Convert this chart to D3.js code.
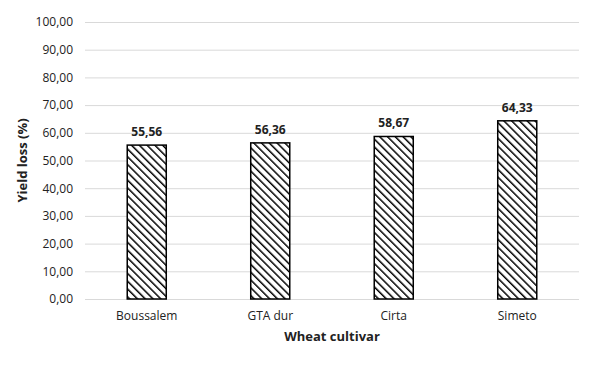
<!DOCTYPE html>
<html>
<head>
<meta charset="utf-8">
<script src="https://cdn.jsdelivr.net/npm/d3@7"></script>
<style>
  body { margin: 0; background: #fff; }
  text { font-family: "Open Sans", "Liberation Sans", sans-serif; fill: #222; }
</style>
</head>
<body>
<svg id="chart" width="613" height="370"></svg>
<script>
// values
const cultivars = ['Boussalem', 'GTA dur', 'Cirta', 'Simeto']
const yieldLoss = [55.56, 56.36, 58.67, 64.33]
const yTicks = [0, 10, 20, 30, 40, 50, 60, 70, 80, 90, 100]

const fmt = v => d3.format('.2f')(v).replace('.', ',')

const svg = d3.select('#chart')
const margin = { top: 22, right: 34, bottom: 71, left: 85 }
const W = 613, H = 370
const w = W - margin.left - margin.right
const h = H - margin.top - margin.bottom

// hatch pattern, lines running top-left to bottom-right
const P = 5.5
const pat = svg.append('defs').append('pattern')
  .attr('id', 'hatch')
  .attr('patternUnits', 'userSpaceOnUse')
  .attr('width', P).attr('height', P)
  .attr('patternTransform', 'rotate(-45)')
pat.append('rect').attr('width', P).attr('height', P).attr('fill', '#fff')
pat.append('line')
  .attr('x1', 0).attr('y1', 0).attr('x2', 0).attr('y2', P)
  .attr('stroke', '#000').attr('stroke-width', 3)

const g = svg.append('g').attr('transform', `translate(${margin.left},${margin.top})`)

const x = d3.scaleBand().domain(cultivars).range([0, w]).paddingInner(0.684).paddingOuter(0.342)
const y = d3.scaleLinear().domain([0, 100]).range([h, 0])

// gridlines + y labels
const yAxis = g.append('g').call(d3.axisLeft(y).tickValues(yTicks).tickSize(-w).tickFormat(fmt).tickPadding(12))
yAxis.select('.domain').remove()
yAxis.selectAll('line').attr('stroke', '#d9d9d9').attr('stroke-width', 1)
yAxis.selectAll('text').attr('font-size', 12).attr('fill', '#222')
  .style('font-family', '"Open Sans", "Liberation Sans", sans-serif')

// x axis labels
const xAxis = g.append('g').attr('transform', `translate(0,${h})`)
  .call(d3.axisBottom(x).tickSize(0).tickPadding(12))
xAxis.select('.domain').remove()
xAxis.selectAll('text').attr('font-size', 12).attr('fill', '#222')
  .style('font-family', '"Open Sans", "Liberation Sans", sans-serif')

// bars
g.selectAll('.bar').data(cultivars).enter().append('rect')
  .attr('class', 'bar')
  .attr('x', d => x(d))
  .attr('y', (d, i) => y(yieldLoss[i]))
  .attr('width', x.bandwidth())
  .attr('height', (d, i) => h - y(yieldLoss[i]))
  .attr('fill', 'url(#hatch)')
  .attr('stroke', '#000').attr('stroke-width', 1.5)

// value labels
g.selectAll('.val').data(cultivars).enter().append('text')
  .attr('class', 'val')
  .attr('x', d => x(d) + x.bandwidth() / 2)
  .attr('y', (d, i) => y(yieldLoss[i]) - 9)
  .attr('text-anchor', 'middle')
  .attr('font-size', 12).attr('font-weight', 'bold')
  .text((d, i) => fmt(yieldLoss[i]))

// axis titles
svg.append('text')
  .attr('x', margin.left + w / 2).attr('y', 341)
  .attr('text-anchor', 'middle')
  .attr('font-size', 13).attr('font-weight', 'bold')
  .text('Wheat cultivar')

svg.append('text')
  .attr('transform', `translate(27,${margin.top + h / 2}) rotate(-90)`)
  .attr('text-anchor', 'middle')
  .attr('font-size', 13).attr('font-weight', 'bold')
  .text('Yield loss (%)')
</script>
</body>
</html>
